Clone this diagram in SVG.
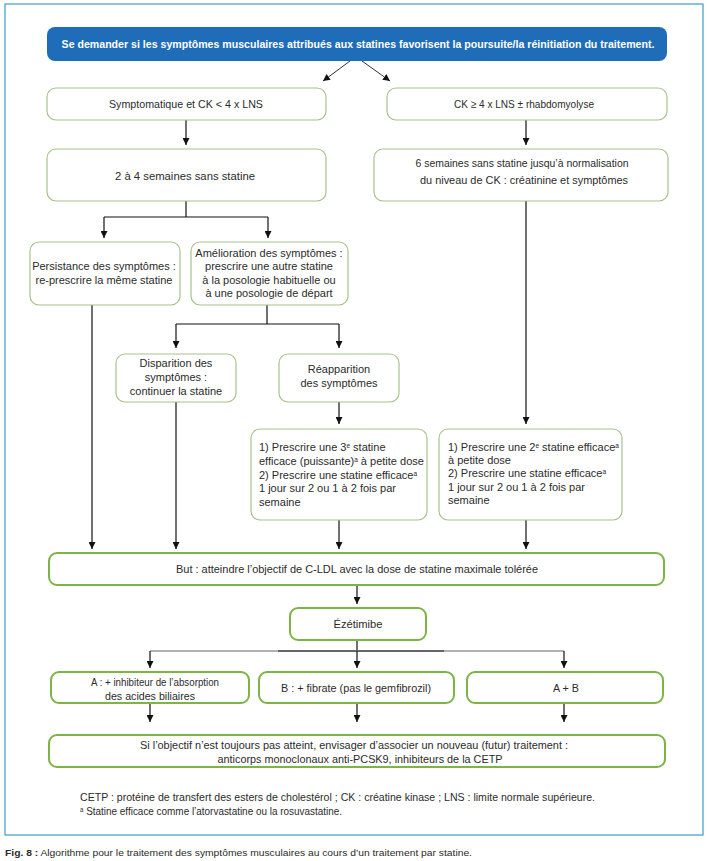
<svg xmlns="http://www.w3.org/2000/svg" width="707" height="861" viewBox="0 0 707 861">
<defs>
<marker id="ah" markerUnits="userSpaceOnUse" markerWidth="7" markerHeight="7" refX="7" refY="3.5" orient="auto">
<path d="M0,0 L7,3.5 L0,7 z" fill="#111"/>
</marker>
<style>
text{font-family:"Liberation Sans",Arial,sans-serif;fill:#2b2b2b;}
.c{font-size:11.2px;text-anchor:middle;}
.w{font-size:11px;text-anchor:middle;}
.l{font-size:11px;}
.s{font-size:6.5px;}
.bx{fill:#fff;stroke:#a8c28c;stroke-width:1.2;}
.gb{fill:#fff;stroke:#7db446;stroke-width:2;}
.ln{fill:none;stroke:#111;stroke-width:1.2;}
.ar{fill:none;stroke:#111;stroke-width:1.2;marker-end:url(#ah);}
</style>
</defs>
<rect x="0" y="0" width="707" height="861" fill="#fff"/>
<rect id="frame" x="5" y="4" width="698" height="831" fill="#fff" stroke="#3a9fc7" stroke-width="1.2"/>

<g id="connectors">
<line x1="350" y1="61" x2="323" y2="81" stroke="#333" stroke-width="1" marker-end="url(#ah)"/>
<line x1="362" y1="61" x2="390" y2="81" stroke="#333" stroke-width="1" marker-end="url(#ah)"/>
<line class="ar" x1="186" y1="120" x2="186" y2="145"/>
<line class="ar" x1="526" y1="120" x2="526" y2="145"/>
<polyline class="ln" points="186,201 186,217"/>
<polyline class="ln" points="104,217 268,217"/>
<line class="ar" x1="104" y1="217" x2="104" y2="238"/>
<line class="ar" x1="268" y1="217" x2="268" y2="238"/>
<polyline class="ln" points="267,305 267,324"/>
<polyline class="ln" points="176,324 339,324"/>
<line class="ar" x1="176" y1="324" x2="176" y2="348"/>
<line class="ar" x1="339" y1="324" x2="339" y2="348"/>
<line class="ar" x1="339" y1="402" x2="339" y2="424"/>
<line class="ar" x1="526" y1="201" x2="526" y2="424"/>
<line class="ar" x1="92" y1="305" x2="92" y2="549"/>
<line class="ar" x1="176" y1="402" x2="176" y2="549"/>
<line class="ar" x1="339" y1="520" x2="339" y2="549"/>
<line class="ar" x1="526" y1="520" x2="526" y2="549"/>
<line class="ar" x1="357" y1="585" x2="357" y2="604"/>
<line class="ln" x1="357" y1="640" x2="357" y2="651"/>
<line x1="150" y1="651" x2="564" y2="651" stroke="#999" stroke-width="1.5"/>
<line x1="278" y1="651" x2="444" y2="651" stroke="#666" stroke-width="1.8"/>
<line class="ar" x1="150" y1="651" x2="150" y2="668"/>
<line class="ar" x1="357" y1="651" x2="357" y2="668"/>
<line class="ar" x1="564" y1="651" x2="564" y2="668"/>
<line class="ar" x1="150" y1="703" x2="150" y2="722"/>
<line class="ar" x1="357" y1="703" x2="357" y2="722"/>
<line class="ar" x1="564" y1="703" x2="564" y2="722"/>
</g>

<g id="header">
<rect x="47" y="27" width="620" height="34" rx="8" fill="#1f6cb9"/>
<text transform="translate(358,48) scale(0.775,1)" x="0" y="0" font-size="11.8" font-weight="bold" text-anchor="middle" style="fill:#fff" textLength="765" lengthAdjust="spacingAndGlyphs">Se demander si les symptômes musculaires attribués aux statines favorisent la poursuite/la réinitiation du traitement.</text>
</g>

<g id="n-sympto">
<rect class="bx" x="47" y="88" width="279" height="32" rx="9"/>
<text class="c" x="186" y="108" textLength="154" lengthAdjust="spacingAndGlyphs">Symptomatique et CK &lt; 4 x LNS</text>
</g>
<g id="n-ck">
<rect class="bx" x="387" y="88" width="280" height="32" rx="9"/>
<text class="c" x="524" y="108" textLength="140" lengthAdjust="spacingAndGlyphs">CK ≥ 4 x LNS ± rhabdomyolyse</text>
</g>
<g id="n-2a4">
<rect class="bx" x="47" y="149" width="279" height="52" rx="9"/>
<text class="c" x="185" y="180" textLength="140" lengthAdjust="spacingAndGlyphs">2 à 4 semaines sans statine</text>
</g>
<g id="n-6sem">
<rect class="bx" x="374" y="149" width="294" height="52" rx="9"/>
<text class="c" x="522" y="167" textLength="213" lengthAdjust="spacingAndGlyphs">6 semaines sans statine jusqu’à normalisation</text>
<text class="c" x="524" y="184" textLength="208" lengthAdjust="spacingAndGlyphs">du niveau de CK : créatinine et symptômes</text>
</g>
<g id="n-persist">
<rect class="bx" x="30" y="242" width="150" height="63" rx="9"/>
<text class="w" x="104" y="270">Persistance des symptômes :</text>
<text class="w" x="104" y="284">re-prescrire la même statine</text>
</g>
<g id="n-amelio">
<rect class="bx" x="191" y="242" width="157" height="63" rx="9"/>
<text class="w" x="269" y="257">Amélioration des symptômes :</text>
<text class="w" x="269" y="270">prescrire une autre statine</text>
<text class="w" x="269" y="284">à la posologie habituelle ou</text>
<text class="w" x="269" y="297">à une posologie de départ</text>
</g>
<g id="n-dispar">
<rect class="bx" x="116" y="354" width="120" height="48" rx="9"/>
<text class="w" x="176" y="367">Disparition des</text>
<text class="w" x="176" y="381">symptômes :</text>
<text class="w" x="176" y="395">continuer la statine</text>
</g>
<g id="n-reappar">
<rect class="bx" x="279" y="354" width="120" height="48" rx="9"/>
<text class="w" x="339" y="373">Réapparition</text>
<text class="w" x="339" y="387">des symptômes</text>
</g>
<g id="n-3e">
<rect class="bx" x="251" y="429" width="176" height="91" rx="9"/>
<text class="l" x="259" y="451">1) Prescrire une 3<tspan class="s" baseline-shift="super">e</tspan> statine</text>
<text class="l" x="259" y="465">efficace (puissante)<tspan class="s" baseline-shift="super">a</tspan> à petite dose</text>
<text class="l" x="259" y="479">2) Prescrire une statine efficace<tspan class="s" baseline-shift="super">a</tspan></text>
<text class="l" x="259" y="492">1 jour sur 2 ou 1 à 2 fois par</text>
<text class="l" x="259" y="506">semaine</text>
</g>
<g id="n-2e">
<rect class="bx" x="439" y="429" width="183" height="91" rx="9"/>
<text class="l" x="448" y="451">1) Prescrire une 2<tspan class="s" baseline-shift="super">e</tspan> statine efficace<tspan class="s" baseline-shift="super">a</tspan></text>
<text class="l" x="448" y="464">à petite dose</text>
<text class="l" x="448" y="477">2) Prescrire une statine efficace<tspan class="s" baseline-shift="super">a</tspan></text>
<text class="l" x="448" y="491">1 jour sur 2 ou 1 à 2 fois par</text>
<text class="l" x="448" y="504">semaine</text>
</g>
<g id="n-but">
<rect class="gb" x="49" y="553" width="615" height="32" rx="8"/>
<text class="c" x="357" y="573" textLength="362" lengthAdjust="spacingAndGlyphs">But : atteindre l’objectif de C-LDL avec la dose de statine maximale tolérée</text>
</g>
<g id="n-ezet">
<rect class="gb" x="290" y="608" width="136" height="32" rx="8"/>
<text class="c" x="358" y="628" textLength="49" lengthAdjust="spacingAndGlyphs">Ézétimibe</text>
</g>
<g id="n-a">
<rect class="gb" x="51" y="672" width="198" height="31" rx="8"/>
<text class="c" x="155" y="686" textLength="128" lengthAdjust="spacingAndGlyphs">A : + inhibiteur de l’absorption</text>
<text class="c" x="150" y="700" textLength="90" lengthAdjust="spacingAndGlyphs">des acides biliaires</text>
</g>
<g id="n-b">
<rect class="gb" x="259" y="672" width="195" height="31" rx="8"/>
<text class="c" x="356" y="692" textLength="150" lengthAdjust="spacingAndGlyphs">B : + fibrate (pas le gemfibrozil)</text>
</g>
<g id="n-ab">
<rect class="gb" x="467" y="672" width="196" height="31" rx="8"/>
<text class="c" x="566" y="692" textLength="26" lengthAdjust="spacingAndGlyphs">A + B</text>
</g>
<g id="n-final">
<rect class="gb" x="49" y="735" width="616" height="32" rx="8"/>
<text class="c" x="354" y="749" textLength="428" lengthAdjust="spacingAndGlyphs">Si l’objectif n’est toujours pas atteint, envisager d’associer un nouveau (futur) traitement :</text>
<text class="c" x="360" y="763" textLength="285" lengthAdjust="spacingAndGlyphs">anticorps monoclonaux anti-PCSK9, inhibiteurs de la CETP</text>
</g>

<g id="notes">
<text x="80" y="801" font-size="10.5" textLength="515" lengthAdjust="spacingAndGlyphs">CETP : protéine de transfert des esters de cholestérol ; CK : créatine kinase ; LNS : limite normale supérieure.</text>
<text x="80" y="815" font-size="10.5" textLength="262" lengthAdjust="spacingAndGlyphs"><tspan font-size="6.5" baseline-shift="super">a</tspan> Statine efficace comme l’atorvastatine ou la rosuvastatine.</text>
<text x="5" y="856" font-size="9" textLength="467" lengthAdjust="spacingAndGlyphs"><tspan font-weight="bold">Fig. 8 :</tspan> Algorithme pour le traitement des symptômes musculaires au cours d’un traitement par statine.</text>
</g>
</svg>
